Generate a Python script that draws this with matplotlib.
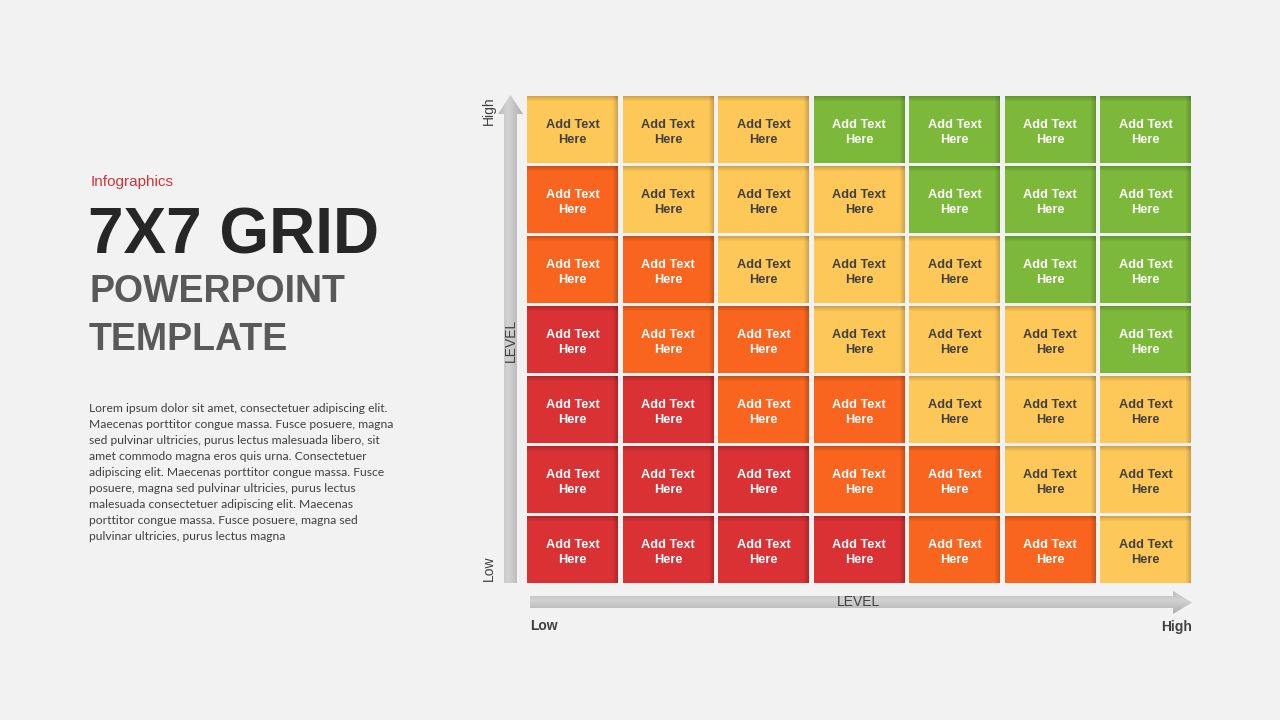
import numpy as np
import matplotlib.pyplot as plt
from matplotlib.patches import Rectangle, Polygon

# grid levels, rows top to bottom (0 = red, 1 = orange, 2 = yellow, 3 = green)
levels = [
    [2, 2, 2, 3, 3, 3, 3],
    [1, 2, 2, 2, 3, 3, 3],
    [1, 1, 2, 2, 2, 3, 3],
    [0, 1, 1, 2, 2, 2, 3],
    [0, 0, 1, 1, 2, 2, 2],
    [0, 0, 0, 1, 1, 2, 2],
    [0, 0, 0, 0, 1, 1, 2],
]
palette = ["#D93134", "#F9651F", "#FEC859", "#7CB83A"]
text_colors = ["white", "white", "#404040", "white"]
cell_label = "Add Text\nHere"

axis_name = "LEVEL"
axis_low, axis_high = "Low", "High"

kicker = "Infographics"
title = "7X7 GRID"
subtitle = ["POWERPOINT", "TEMPLATE"]
body = [
    "Lorem ipsum dolor sit amet, consectetuer adipiscing elit.",
    "Maecenas porttitor congue massa. Fusce posuere, magna",
    "sed pulvinar ultricies, purus lectus malesuada libero, sit",
    "amet commodo magna eros quis urna. Consectetuer",
    "adipiscing elit. Maecenas porttitor congue massa. Fusce",
    "posuere, magna sed pulvinar ultricies, purus lectus",
    "malesuada consectetuer adipiscing elit. Maecenas",
    "porttitor congue massa. Fusce posuere, magna sed",
    "pulvinar ultricies, purus lectus magna",
]

bg = "#F2F2F2"
fig = plt.figure(figsize=(12.8, 7.2), dpi=100)
fig.patch.set_facecolor(bg)

# page axes in pixel units
ax = fig.add_axes([0, 0, 1, 1])
ax.set_facecolor(bg)

# arrows with a soft gray gradient
def gradient_arrow(pts, horizontal):
    poly = Polygon(pts, closed=True, facecolor="none", edgecolor="none")
    ax.add_patch(poly)
    xs = [p[0] for p in pts]
    ys = [p[1] for p in pts]
    t = np.linspace(0, 1, 64)
    shade = 0.82 - 0.24 * np.abs(t - 0.4) ** 1.1
    if horizontal:
        img = shade[:, None] * np.ones((1, 4))
    else:
        img = shade[None, :] * np.ones((4, 1))
    im = ax.imshow(img, cmap="gray", vmin=0, vmax=1, aspect="auto",
                   extent=(min(xs), max(xs), max(ys), min(ys)),
                   interpolation="bilinear", zorder=1)
    im.set_clip_path(poly)

gradient_arrow([(504, 583), (504, 114), (498, 114), (510.5, 95), (523, 114),
                (517, 114), (517, 583)], horizontal=False)
gradient_arrow([(530, 596), (1173, 596), (1173, 591), (1192, 602.5), (1173, 614),
                (1173, 608), (530, 608)], horizontal=True)

ax.set_xlim(0, 1280)
ax.set_ylim(720, 0)
ax.axis("off")

lab = dict(color="#404040", fontsize=10, family="Liberation Sans")
ax.text(859, 602, axis_name, ha="center", va="center", **lab)
ax.text(511, 340, axis_name, ha="center", va="center", rotation=90, **lab)
ax.text(489, 111, axis_high, ha="center", va="center", rotation=90, **lab)
ax.text(489, 568, axis_low, ha="center", va="center", rotation=90, **lab)
ax.text(530, 626, axis_low, ha="left", va="center", weight="bold", **lab)
ax.text(1192, 627, axis_high, ha="right", va="center", weight="bold", **lab)

# left text block
ax.text(91, 182, kicker, color="#D13438", fontsize=11, va="center",
        family="Liberation Sans")
ax.text(88, 237, title, color="#262626", fontsize=46, weight="bold",
        va="center", family="Liberation Sans")
for i, s in enumerate(subtitle):
    ax.text(89, 292 + 48 * i, s, color="#595959", fontsize=27, weight="bold",
            va="center", family="Liberation Sans")
for i, s in enumerate(body):
    ax.text(89, 409 + 16 * i, s, color="#404040", fontsize=8.7, va="center",
            family="Lato")

# grid axes: one unit per cell
gax = fig.add_axes([527 / 1280, (720 - 586) / 720, 668.5 / 1280, 490 / 720])
gax.set_xlim(0, 7)
gax.set_ylim(0, 7)
gax.axis("off")

px_x, px_y = 1 / 95.5, 1 / 70
cw, ch = 91 * px_x, 67 * px_y
nrows = len(levels)
for r, row in enumerate(levels):
    for c, lv in enumerate(row):
        x0 = c
        y0 = (nrows - 1 - r) + (1 - ch)
        gax.add_patch(Rectangle((x0, y0), cw, ch, facecolor=palette[lv],
                                edgecolor="none", zorder=2))
        # inner shadow on top and right edges
        for k in range(1, 6):
            gax.add_patch(Rectangle((x0, y0 + ch - k * px_y), cw, k * px_y,
                                    facecolor="black", alpha=0.035,
                                    edgecolor="none", zorder=3))
            gax.add_patch(Rectangle((x0 + cw - k * px_x, y0), k * px_x, ch,
                                    facecolor="black", alpha=0.035,
                                    edgecolor="none", zorder=3))
        gax.text(x0 + cw / 2, y0 + ch / 2 - 3 * px_y, cell_label,
                 ha="center", va="center", color=text_colors[lv],
                 fontsize=9.2, weight="bold", linespacing=1.4,
                 family="Liberation Sans", zorder=4)

fig.savefig("out.png", dpi=100, facecolor=bg)
